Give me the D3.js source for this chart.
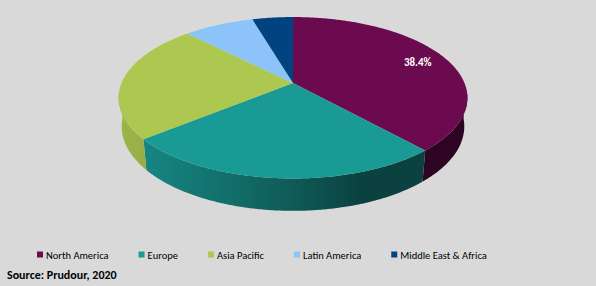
<!DOCTYPE html>
<html>
<head>
<meta charset="utf-8">
<script src="https://cdn.jsdelivr.net/npm/d3@7"></script>
<style>
  html, body { margin: 0; padding: 0; background: #d9d9d9; }
  svg { display: block; font-family: Carlito, Lato, "Open Sans", sans-serif; }
</style>
</head>
<body>
<div class="chart"></div>
<script>
// data
const regions = ['North America', 'Europe', 'Asia Pacific', 'Latin America', 'Middle East & Africa']
const shares = [38.4, 25.6, 23.7, 7.8, 4.5]
const colors = ['#6b0a4e', '#199a95', '#adc851', '#8cc4f9', '#014281']
const labelled = ['38.4%', '', '', '', '']
const source = 'Source: Prudour, 2020'

let width = 596
let height = 286

let svg = d3.select('.chart')
.append('svg')
.attr('width', width)
.attr('height', height)

let defs = svg.append('defs')

// 3d projection of the pie disc (excel style perspective)
const cx = 293, cy = 83
const f = 835, D = 4.87
const s = 0.455, c = 0.8905
const H = 0.188

const proj = (theta, r, h) => {
	let x = r * Math.sin(theta)
	let z = r * Math.cos(theta)
	let v = h * c + z * s
	let w = D + z * c - h * s
	return [cx + f * x / w, cy - f * v / w]
}

let pie = d3.pie().sort(null).value(d => d)
let arcs = pie(shares)

const step = Math.PI / 360
const deg = Math.PI / 180

// light coming from the left
const shade = (col, theta) => {
	let b = 0.42 + 0.48 * Math.max(0, Math.cos(theta - 250 * deg))
	let k = d3.rgb(col)
	return d3.rgb(k.r * b, k.g * b, k.b * b).formatHex()
}

// front side walls, only the part facing the viewer
let walls = arcs.map((a, i) => {
	let t1 = Math.max(a.startAngle, 95 * deg)
	let t2 = Math.min(a.endAngle, 265 * deg)
	return { i: i, t1: t1, t2: t2 }
}).filter(w => w.t2 > w.t1)

walls.forEach(w => {
	let x1 = proj(w.t1, 1, 0)[0]
	let x2 = proj(w.t2, 1, 0)[0]
	let g = defs.append('linearGradient')
	.attr('id', 'wall' + w.i)
	.attr('gradientUnits', 'userSpaceOnUse')
	.attr('x1', x1).attr('x2', x2)
	.attr('y1', 0).attr('y2', 0)
	let n = 12
	d3.range(n + 1).forEach(k => {
		let t = w.t1 + (w.t2 - w.t1) * k / n
		let off = (proj(t, 1, 0)[0] - x1) / (x2 - x1)
		g.append('stop')
		.attr('offset', Math.max(0, Math.min(1, off)))
		.attr('stop-color', shade(colors[w.i], t))
	})
})

svg.append('g')
.selectAll('path')
.data(walls)
.enter()
.append('path')
.attr('d', w => {
	let n = Math.max(2, Math.ceil((w.t2 - w.t1) / step))
	let top = [], bot = []
	for (let k = 0; k <= n; k++) {
		let t = w.t1 + (w.t2 - w.t1) * k / n
		top.push(proj(t, 1, 0))
		bot.push(proj(t, 1, -H))
	}
	return 'M' + top.concat(bot.reverse()).join('L') + 'Z'
})
.attr('fill', w => 'url(#wall' + w.i + ')')

// top faces
svg.append('g')
.selectAll('path')
.data(arcs)
.enter()
.append('path')
.attr('d', a => {
	let pts = [proj(0, 0, 0)]
	let n = Math.max(2, Math.ceil((a.endAngle - a.startAngle) / step))
	for (let k = 0; k <= n; k++) {
		pts.push(proj(a.startAngle + (a.endAngle - a.startAngle) * k / n, 1, 0))
	}
	return 'M' + pts.join('L') + 'Z'
})
.attr('fill', (a, i) => colors[i])

// data label
svg.append('g')
.selectAll('text')
.data(arcs.filter((a, i) => labelled[i]))
.enter()
.append('text')
.attr('x', a => proj((a.startAngle + a.endAngle) / 2, 0.8, 0)[0] + 3)
.attr('y', a => proj((a.startAngle + a.endAngle) / 2, 0.8, 0)[1] + 4)
.attr('text-anchor', 'middle')
.attr('fill', '#fff')
.attr('font-weight', 'bold')
.attr('font-size', '11px')
.text(a => labelled[a.index])

// legend
let legend = svg.append('g')
let lx = 37
regions.forEach((r, i) => {
	legend.append('rect')
	.attr('x', lx)
	.attr('y', 251.5)
	.attr('width', 6)
	.attr('height', 6)
	.attr('fill', colors[i])
	let t = legend.append('text')
	.attr('x', lx + 9)
	.attr('y', 258.5)
	.attr('font-size', '10.5px')
	.attr('fill', '#000')
	.text(r)
	lx += 9 + t.node().getComputedTextLength() + 30
})

svg.append('text')
.attr('x', 7)
.attr('y', 278.5)
.attr('font-size', '12px')
.attr('font-weight', 'bold')
.attr('fill', '#000')
.text(source)
</script>
</body>
</html>
